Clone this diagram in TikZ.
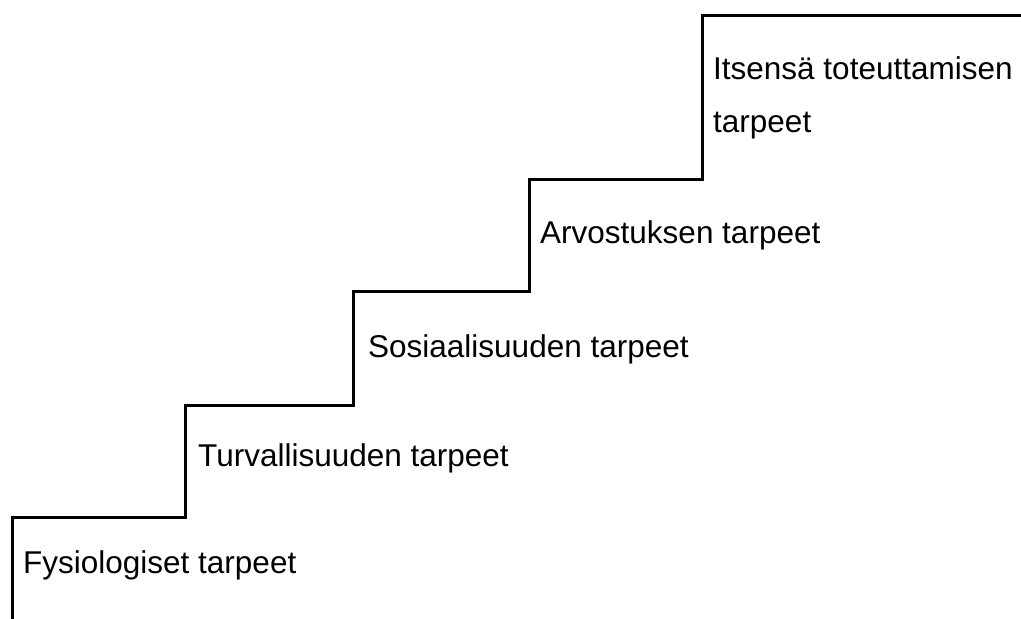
\documentclass[tikz,border=0pt]{standalone}
\usepackage{fontspec}
\setmainfont{Liberation Sans}
\begin{document}
\begin{tikzpicture}[x=1pt,y=-1pt,
  lbl/.style={anchor=base west,inner sep=0pt,font=\fontsize{31.5}{38}\selectfont},
  stair/.style={line width=3pt,line join=miter}]
\useasboundingbox (0,0) rectangle (1021,619);
\draw[stair] (12,619) -- (12,517) -- (185,517) -- (185,405) -- (353,405) -- (353,291)
  -- (529,291) -- (529,179) -- (702,179) -- (702,15) -- (1021,15);
\node[lbl] (fys) at (23,573) {Fysiologiset tarpeet};
\node[lbl] (tur) at (198,466) {Turvallisuuden tarpeet};
\node[lbl] (sos) at (368,357) {Sosiaalisuuden tarpeet};
\node[lbl] (arv) at (540,243) {Arvostuksen tarpeet};
\node[lbl] (its) at (713,79) {Itsensä toteuttamisen};
\node[lbl] (its2) at (713,132) {tarpeet};
\end{tikzpicture}
\end{document}
